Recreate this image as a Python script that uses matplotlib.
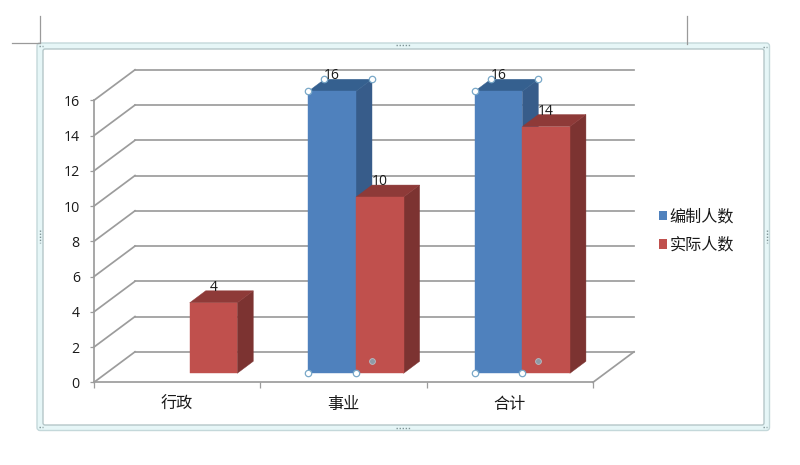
import matplotlib
matplotlib.use("Agg")
import matplotlib.pyplot as plt
from matplotlib.lines import Line2D
from matplotlib.patches import Patch, FancyBboxPatch
from matplotlib.transforms import Affine2D

plt.rcParams['font.family'] = ['Noto Sans CJK SC', 'DejaVu Sans']
DIGIT_FONT = ['Open Sans', 'DejaVu Sans']

categories = ['行政', '事业', '合计']
series_names = ['编制人数', '实际人数']
planned = [None, 16, 16]
actual = [4, 10, 14]
y_ticks = [0, 2, 4, 6, 8, 10, 12, 14, 16]

W, H = 800, 465
FRONT_L, FRONT_R, FRONT_B, FRONT_T = 94.0, 593.0, 382.3, 100.3
fig = plt.figure(figsize=(W / 100, H / 100), dpi=100, facecolor='white')
ax = fig.add_axes([FRONT_L / W, 1 - FRONT_B / H, (FRONT_R - FRONT_L) / W, (FRONT_B - FRONT_T) / H])
ax.set_xlim(0, len(categories))
ax.set_ylim(0, 16)
ax.patch.set_alpha(0)

XU = (FRONT_R - FRONT_L) / len(categories)  # px per category
YU = (FRONT_B - FRONT_T) / 16               # px per value unit
GRID = '#9C9C9C'
TXT = '#1A1A1A'


def shift(x, y, dx_px, dy_px):
    """Data point moved by a pixel offset (screen up = positive dy)."""
    return x + dx_px / XU, y + dy_px / YU


# Frame of the embedded object (figure pixel coords)
def fig_rect(x0, y0, x1, y1, fc, ec, lw=1.0, r=3):
    p = FancyBboxPatch((x0, H - y1), x1 - x0, y1 - y0, boxstyle=f'round,pad=0,rounding_size={r}',
                       fc=fc, ec=ec, lw=lw, zorder=-5)
    p.set_transform(Affine2D().scale(1 / W, 1 / H) + fig.transFigure)
    fig.add_artist(p)


fig_rect(37, 43, 769.5, 430.5, '#E6F6F7', '#C4D8DA', 1.0)
fig_rect(43, 49, 764, 425, 'white', '#B5C6C8', 1.0, 2)


def fig_line(xs, ys, color='#9A9A9A', lw=0.9, **kw):
    fig.add_artist(Line2D([x / W for x in xs], [1 - y / H for y in ys],
                          transform=fig.transFigure, color=color, lw=lw, **kw))


fig_line([39.5, 39.5], [16, 43])
fig_line([12, 39], [43.5, 43.5])
fig_line([686.5, 686.5], [16, 44])
DOTS = dict(color='#7F9496', lw=1.0, ls=(0, (1, 1.2)))
fig_line([396, 410], [45.5, 45.5], **DOTS)
fig_line([396, 410], [428, 428], **DOTS)
fig_line([39.5, 39.5], [230, 243], **DOTS)
fig_line([767, 767], [230, 243], **DOTS)
for cx, cy in [(41, 46), (765, 47), (41, 427), (765, 427)]:
    fig_line([cx - 2, cx + 2], [cy, cy], **DOTS)

# Depth of the chart box
BOX_DX, BOX_DY = 41, 30.5
N = len(categories)
for t in y_ticks:
    x0, y0 = shift(0, t, BOX_DX, BOX_DY)
    x1, y1 = shift(N, t, BOX_DX, BOX_DY)
    ax.plot([x0, x1], [y0, y1], color=GRID, lw=1.25, clip_on=False, zorder=1)
    ax.plot([0, x0], [t, y0], color=GRID, lw=1.25, clip_on=False, zorder=1)
xr, yr = shift(N, 0, BOX_DX, BOX_DY)
ax.plot([N, xr], [0, yr], color=GRID, lw=1.25, clip_on=False, zorder=1)

# Bars
BAR_W = 47.6 / XU
BAR_DX0, BAR_DY0 = 12.5, 9        # bar front plane within the box
BAR_DX, BAR_DY = 16, 12           # bar depth
STYLES = [('#4F81BD', '#375C8A', '#35608F'), ('#C0504D', '#7C3331', '#8E3A38')]


def bar3d(x_left, value, colors, z):
    front, side, top = colors
    x_r = x_left + BAR_W
    a = lambda x, y: shift(x, y, BAR_DX0, BAR_DY0)
    b = lambda x, y: shift(x, y, BAR_DX0 + BAR_DX, BAR_DY0 + BAR_DY)
    pts_side = [a(x_r, 0), a(x_r, value), b(x_r, value), b(x_r, 0)]
    pts_top = [a(x_left, value), a(x_r, value), b(x_r, value), b(x_left, value)]
    pts_front = [a(x_left, 0), a(x_r, 0), a(x_r, value), a(x_left, value)]
    for pts, c in ((pts_side, side), (pts_top, top), (pts_front, front)):
        ax.fill(*zip(*pts), color=c, lw=0.3, clip_on=False, zorder=z)
    return a, b


LABEL_OFF = 15.5
for i in range(N):
    centre = i + 0.5
    for j, values in enumerate((planned, actual)):
        v = values[i]
        if v is None:
            continue
        x_left = centre - BAR_W if j == 0 else centre
        a, b = bar3d(x_left, v, STYLES[j], 3 + j)
        lx, ly = a(x_left + BAR_W / 2, v)
        ax.annotate(str(v), (lx, ly), xytext=(0, LABEL_OFF * 0.72), textcoords='offset points',
                    ha='center', va='center', fontsize=10, color=TXT, family=DIGIT_FONT,
                    annotation_clip=False, zorder=8)
        if j == 0:
            # selection handles on the planned series
            x_r = x_left + BAR_W
            pts = [a(x_left, v), b(x_left, v), b(x_r, v), a(x_left, 0), a(x_r, 0)]
            ax.plot(*zip(*pts), ls='none', marker='o', ms=4.6, mfc='white', mec='#79A8C8',
                    mew=0.9, clip_on=False, zorder=7)
            gx, gy = b(x_r, 0)
            ax.plot([gx], [gy], ls='none', marker='o', ms=4.2, mfc='#8E9AA6', mec='#B7BEC6',
                    mew=0.6, clip_on=False, zorder=7)

# Axes
for s in ('top', 'right'):
    ax.spines[s].set_visible(False)
for s in ('left', 'bottom'):
    ax.spines[s].set_color(GRID)
    ax.spines[s].set_linewidth(1.25)
    ax.spines[s].set_zorder(2)
ax.set_yticks(y_ticks)
ax.set_yticklabels([str(t) for t in y_ticks], family=DIGIT_FONT)
ax.tick_params(axis='y', length=3.2, width=0.9, color=GRID, pad=7, labelsize=10.2, labelcolor=TXT)
ax.set_xticks(range(N + 1))
ax.set_xticklabels([''] * (N + 1))
ax.set_xticks([i + 0.5 for i in range(N)], minor=True)
ax.set_xticklabels(categories, minor=True)
ax.tick_params(axis='x', which='major', length=4, width=0.9, color=GRID)
ax.tick_params(axis='x', which='minor', length=0, pad=10, labelsize=11.6, labelcolor=TXT)

# Legend
leg_handles = [Patch(fc=STYLES[k][0], ec='none', label=series_names[k]) for k in range(2)]
fig.legend(handles=leg_handles, loc='center left', bbox_to_anchor=(658.5 / W, 1 - 231 / H),
           frameon=False, fontsize=11.6, handlelength=0.5, handleheight=0.5,
           handletextpad=0.2, labelspacing=0.72, labelcolor=TXT, borderpad=0, borderaxespad=0)

fig.savefig('out.png', dpi=100)
